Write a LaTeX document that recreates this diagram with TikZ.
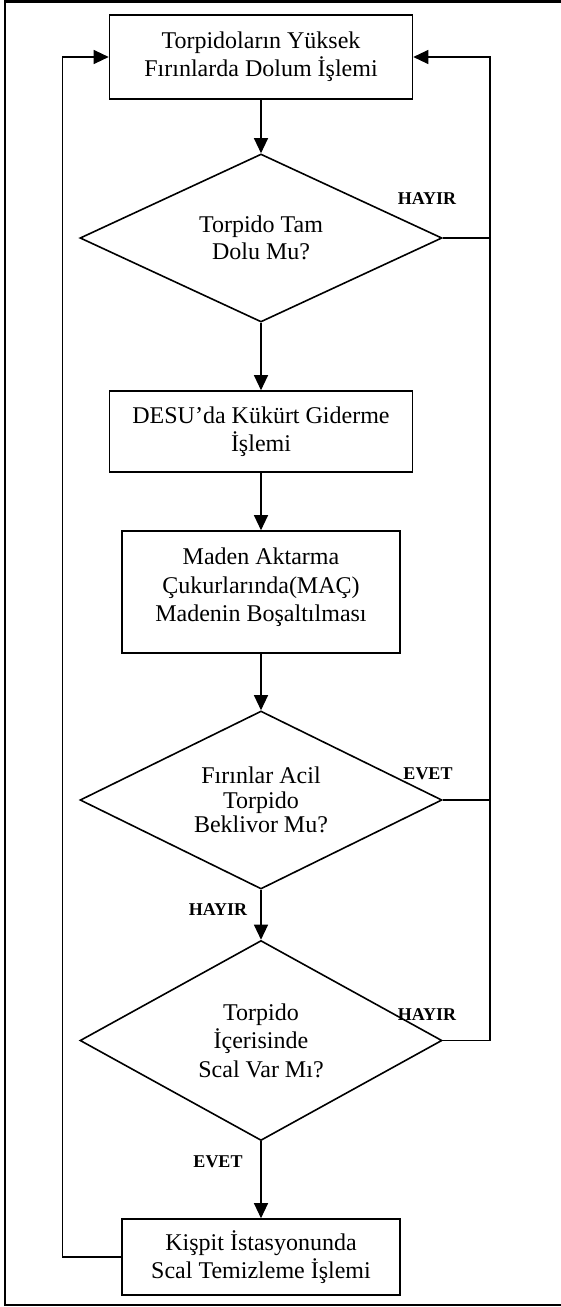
\documentclass[tikz,border=0pt]{standalone}
\usepackage{fontspec}
\setmainfont{Liberation Serif}
\usetikzlibrary{shapes.geometric,arrows.meta}
\begin{document}
\begin{tikzpicture}[x=0.5pt,y=-0.5pt,
  kutu/.style={draw,line width=0.8pt,inner sep=0pt,align=center,font=\fontsize{12}{14.2}\selectfont},
  karar/.style={draw,diamond,aspect=2,line width=0.8pt,inner sep=0pt,minimum width=181pt,align=center,font=\fontsize{12}{14.2}\selectfont},
  cizgi/.style={line width=0.6pt},
  ok/.style={cizgi,-{Triangle[length=7.5pt,width=7pt]}},
  etiket/.style={font=\fontsize{9}{10}\selectfont\bfseries,inner sep=0pt}]
\useasboundingbox (0,0) rectangle (561,1307);
\draw[line width=1.4pt] (580,1.5) -- (5,1.5) -- (5,1305) -- (580,1305);
% kutular ve kararlar
\node[kutu,minimum width=151.5pt,minimum height=42pt] (dolum) at (261,57) {Torpidoların Yüksek\\Fırınlarda Dolum İşlemi};
\node[karar,minimum height=84pt,font=\fontsize{12}{13.3}\selectfont] (tamdolu) at (261,238) {Torpido Tam\\Dolu Mu?};
\node[kutu,minimum width=151.5pt,minimum height=40.5pt] (desu) at (261,431.5) {DESU’da Kükürt Giderme\\İşlemi};
\node[kutu,minimum width=139pt,minimum height=61pt] (maden) at (261,592) {Maden Aktarma\\Çukurlarında(MAÇ)\\Madenin Boşaltılması\\[-7pt]};
\node[karar,minimum height=89pt,font=\fontsize{12}{12.2}\selectfont] (acil) at (261,800) {Fırınlar Acil\\Torpido\\Beklivor Mu?};
\node[karar,minimum height=100pt] (scal) at (261,1040.5) {Torpido\\İçerisinde\\Scal Var Mı?};
\node[kutu,minimum width=139pt,minimum height=38pt] (temizleme) at (261,1257) {Kişpit İstasyonunda\\Scal Temizleme İşlemi};
% oklar
\draw[ok] (dolum) -- (tamdolu);
\draw[ok] (tamdolu) -- (desu);
\draw[ok] (desu) -- (maden);
\draw[ok] (maden) -- (acil);
\draw[ok] (acil) -- (scal);
\draw[ok] (scal) -- (temizleme);
\coordinate (sag) at (490,57);
\coordinate (sol) at (62.5,57);
\draw[cizgi] (tamdolu.east) -- (tamdolu.east -| sag);
\draw[cizgi] (acil.east) -- (acil.east -| sag);
\draw[ok] (scal.east) -| (sag) -- (dolum.east);
\draw[ok] (temizleme.west) -| (sol) -- (dolum.west);
% etiketler
\node[etiket] (hayir1) at (427,199) {HAYIR};
\node[etiket] (evet1) at (428,774) {EVET};
\node[etiket] (hayir2) at (218,910) {HAYIR};
\node[etiket] (hayir3) at (427,1015) {HAYIR};
\node[etiket] (evet2) at (218,1162) {EVET};
\end{tikzpicture}
\end{document}
